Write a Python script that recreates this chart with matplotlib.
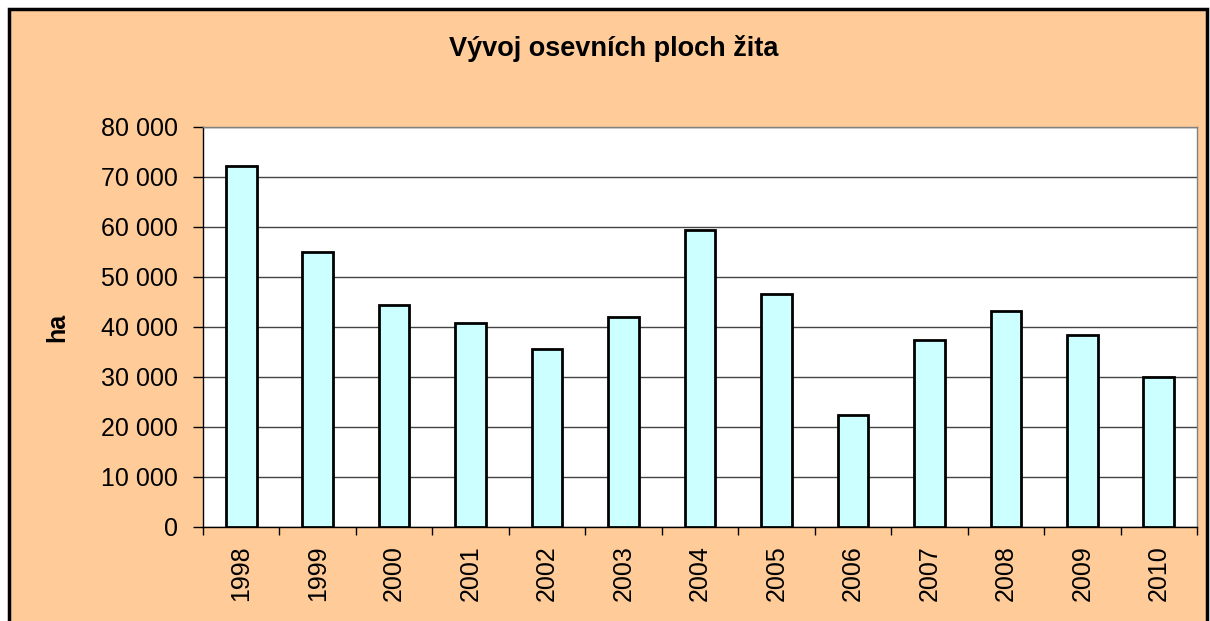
import matplotlib
matplotlib.use("Agg")
import matplotlib.pyplot as plt
from matplotlib.patches import Rectangle
from matplotlib.ticker import FixedLocator

years = ["1998", "1999", "2000", "2001", "2002", "2003", "2004",
         "2005", "2006", "2007", "2008", "2009", "2010"]
area_ha = [72200, 55000, 44400, 40900, 35600, 42000, 59400,
           46700, 22400, 37500, 43300, 38500, 30100]
yticks = [0, 10000, 20000, 30000, 40000, 50000, 60000, 70000, 80000]
ytick_labels = ["0", "10 000", "20 000", "30 000", "40 000", "50 000",
                "60 000", "70 000", "80 000"]

plt.rcParams['font.family'] = ['Liberation Sans', 'DejaVu Sans']

fig = plt.figure(figsize=(12.10, 6.21), dpi=100)
fig.patch.set_facecolor('white')
# orange chart area with black frame
fig.patches.append(Rectangle((9/1210, -0.05), (1207-9)/1210, 1 - 9/621 + 0.05,
                             transform=fig.transFigure, facecolor='#FFCC99',
                             edgecolor='black', linewidth=2.5, zorder=-10))

ax = fig.add_axes([203/1210, 1 - 527/621, (1197-203)/1210, (527-127)/621])
ax.set_facecolor('white')
x = list(range(len(years)))
ax.bar(x, area_ha, width=0.4, color='#CCFFFF', edgecolor='black',
       linewidth=2.0, zorder=3)
ax.set_xlim(-0.5, len(years) - 0.5)
ax.set_ylim(0, 80000)
ax.set_yticks(yticks)
ax.set_yticklabels(ytick_labels, fontsize=18)
ax.set_xticks(x)
ax.set_xticklabels(years, rotation=90, fontsize=18)
ax.tick_params(axis='x', length=0, pad=13)
ax.xaxis.set_minor_locator(FixedLocator([i - 0.5 for i in range(len(years) + 1)]))
ax.tick_params(axis='x', which='minor', length=6, width=1, color='black', direction='out')
ax.tick_params(axis='y', length=7, width=1, direction='out', pad=11)
ax.grid(axis='y', color='#444444', linewidth=1.0, zorder=1)
for s in ['top', 'right']:
    ax.spines[s].set_color('#808080')
    ax.spines[s].set_linewidth(1.0)
for s in ['left', 'bottom']:
    ax.spines[s].set_color('black')
    ax.spines[s].set_linewidth(1.0)

ax.set_ylabel('ha', fontsize=18, fontweight='bold')
ax.yaxis.set_label_coords(-134/994, 0.5)

fig.text(613.5/1210, 1 - 56/621, 'Vývoj osevních ploch žita', ha='center', va='baseline',
         fontsize=19.5, fontweight='bold')

fig.savefig('out.png', dpi=100, facecolor=fig.get_facecolor())
